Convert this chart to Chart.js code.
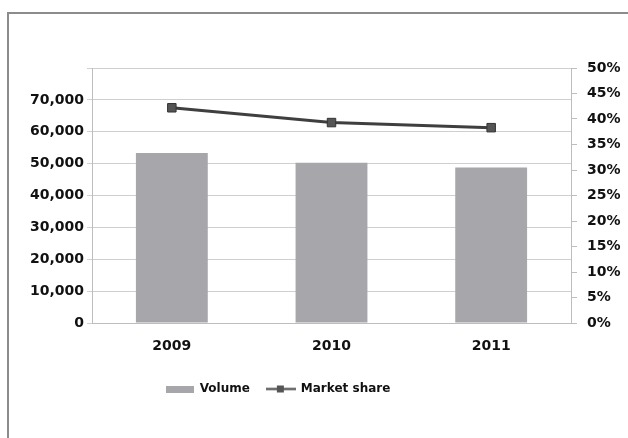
<!DOCTYPE html>
<html>
<head>
<meta charset="utf-8">
<script src="https://cdn.jsdelivr.net/npm/chart.js@4.4.1/dist/chart.umd.min.js"></script>
<style>
  html, body { margin: 0; padding: 0; background: #fff; }
  #wrap { position: relative; width: 628px; height: 438px; overflow: hidden; }
  #frame { position: absolute; left: 7px; top: 12px; width: 700px; height: 500px;
           border-left: 2px solid #8c8c8c; border-top: 2px solid #8c8c8c; }
  canvas { position: absolute; left: 0; top: 0; }
</style>
</head>
<body>
<div id="wrap">
  <div id="frame"></div>
  <canvas id="chart" width="628" height="438"></canvas>
</div>
<script>
const years = ['2009', '2010', '2011']
const volume = [53300, 50300, 48800]
const marketShare = [42.2, 39.3, 38.3]

const barColor = '#a6a6ab'
const lineColor = '#3f3f3f'
const gridColor = '#cfcfcf'
const tickFont = { family: 'DejaVu Sans', weight: 'bold', size: 14 }

// little icons for the legend
function makeIcon(w, h, draw) {
    const c = document.createElement('canvas')
    c.width = w
    c.height = h
    draw(c.getContext('2d'))
    return c
}
const volumeIcon = makeIcon(28, 7, ctx => {
    ctx.fillStyle = barColor
    ctx.fillRect(0, 0, 28, 7)
})
const shareIcon = makeIcon(30, 9, ctx => {
    ctx.fillStyle = lineColor
    ctx.fillRect(0, 3.5, 30, 2)
    ctx.fillStyle = '#555'
    ctx.fillRect(11, 1, 7, 7)
})

const shiftLegend = {
    id: 'shiftLegend',
    afterLayout(chart) {
        chart.legend.left -= 36
        chart.legend.right -= 36
    }
}

const ctx = document.getElementById('chart').getContext('2d')
new Chart(ctx, {
    data: {
        labels: years,
        datasets: [
            {
                type: 'line',
                label: 'Market share',
                data: marketShare,
                yAxisID: 'y1',
                borderColor: lineColor,
                borderWidth: 3,
                pointStyle: 'rect',
                pointRadius: 6,
                pointBackgroundColor: '#555',
                pointBorderColor: '#333',
                pointBorderWidth: 1,
                order: 1
            },
            {
                type: 'bar',
                label: 'Volume',
                data: volume,
                yAxisID: 'y',
                backgroundColor: barColor,
                barPercentage: 0.45,
                categoryPercentage: 1,
                order: 2
            }
        ]
    },
    options: {
        responsive: false,
        animation: false,
        layout: { padding: { top: 68, left: 0, right: 0, bottom: 33 } },
        plugins: {
            tooltip: { enabled: false },
            legend: {
                position: 'bottom',
                reverse: true,
                labels: {
                    usePointStyle: true,
                    pointStyleWidth: 28,
                    boxHeight: 12,
                    padding: 17,
                    color: '#111',
                    font: { family: 'DejaVu Sans', weight: 'bold', size: 12 },
                    generateLabels(chart) {
                        const items = Chart.defaults.plugins.legend.labels.generateLabels(chart)
                        items.forEach(item => {
                            item.pointStyle = item.datasetIndex === 1 ? volumeIcon : shareIcon
                        })
                        return items
                    }
                }
            }
        },
        scales: {
            x: {
                afterFit(scale) { scale.height = 43 },
                grid: { display: false },
                border: { display: true, color: '#bdbdbd', width: 1 },
                ticks: { color: '#111', font: tickFont, padding: 7 }
            },
            y: {
                position: 'left',
                min: 0,
                max: 80000,
                afterFit(scale) { scale.width = 92 },
                grid: { color: gridColor, lineWidth: 1, tickLength: 5 },
                border: { display: true, color: '#bdbdbd' },
                ticks: {
                    stepSize: 10000,
                    padding: 3,
                    color: '#111',
                    font: tickFont,
                    callback: v => v === 80000 ? '' : v.toLocaleString('en-US')
                }
            },
            y1: {
                position: 'right',
                min: 0,
                max: 50,
                afterFit(scale) { scale.width = 57 },
                grid: { drawOnChartArea: false, color: '#bdbdbd', tickLength: 6 },
                border: { display: true, color: '#bdbdbd' },
                ticks: {
                    stepSize: 5,
                    padding: 10,
                    color: '#111',
                    font: tickFont,
                    callback: v => v + '%'
                }
            }
        }
    },
    plugins: [shiftLegend]
})
</script>
</body>
</html>
